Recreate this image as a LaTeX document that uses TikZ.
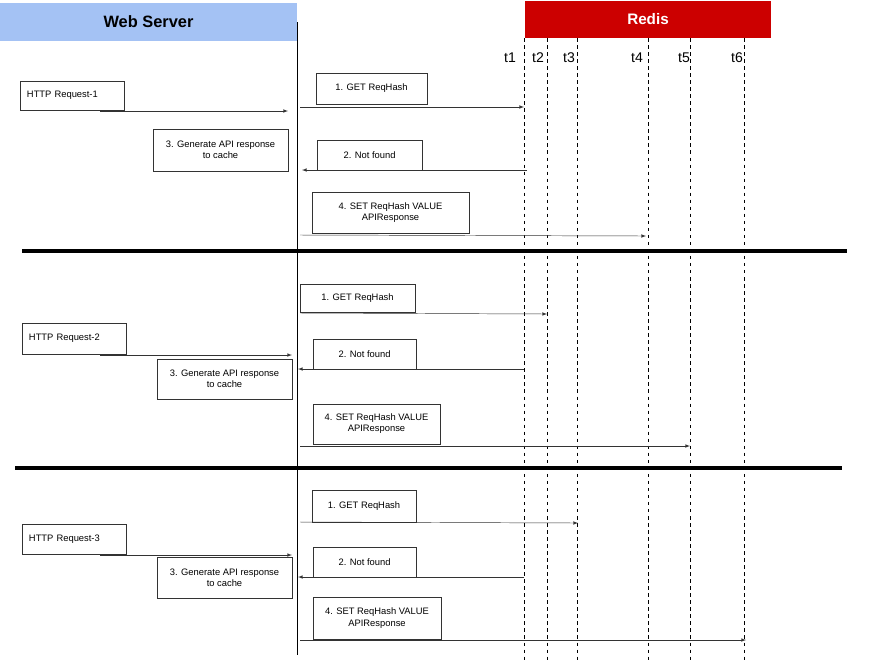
\documentclass[tikz,border=0pt]{standalone}
\usepackage{fontspec}
\setmainfont{Liberation Sans}
\usepackage{xcolor}
\definecolor{wsblue}{HTML}{A4C2F4}
\definecolor{redisred}{HTML}{CC0000}
\begin{document}
\begin{tikzpicture}[x=0.3mm,y=-0.3mm]
\tikzset{box/.style={draw=black!80,fill=white,inner sep=1pt,align=center,font=\fontsize{8}{9.5}\selectfont},
  req/.style={box,align=left,text width=27mm,minimum width=31.2mm},
  msg/.style={draw=black!80,-latex},
  tline/.style={draw=black,dashed,thin}}
\useasboundingbox (0,0) rectangle (880,660);
% headers
\node (ws) [fill=wsblue,minimum width=89.1mm,minimum height=11.4mm,inner sep=0pt,font=\fontsize{14}{16}\bfseries] at (148.5,22) {Web Server};
\node (redis) [fill=redisred,text=white,minimum width=73.8mm,minimum height=11.1mm,inner sep=0pt,font=\fontsize{13}{15}\bfseries] at (648,19.5) {Redis};
\draw (297,22) -- (297,655);
% time lines
\foreach \n/\x/\lx in {1/524/510,2/547/538,3/577/569,4/648/637,5/690/684,6/744/737}{
  \coordinate (t\n) at (\x,38);
  \draw [tline] (t\n) -- (\x,660);
  \node (lt\n) [font=\fontsize{12}{14}\selectfont] at (\lx,58) {t\n};
}
% separators
\draw [line width=1.2mm] (22,251) -- (847,251);
\draw [line width=1.2mm] (15,468) -- (842,468);
% request 1
\node (req1) [req,minimum height=8.7mm] at (72,95.5) {HTTP Request-1};
\node (get1) [box,minimum width=33.3mm,minimum height=9.3mm] at (371.5,88.5) {1. GET ReqHash};
\node (gen1) [box,minimum width=40.5mm,minimum height=12.6mm] at (220.5,150) {3. Generate API response\\to cache};
\node (nf1) [box,minimum width=31.5mm,minimum height=9mm] at (369.5,155) {2. Not found};
\node (set1) [box,minimum width=47.1mm,minimum height=12.3mm] at (390.5,212.5) {4. SET ReqHash VALUE\\APIResponse};
\coordinate (a1) at (100,111); \coordinate (b1) at (288,111);
\draw [msg] (a1) -- (b1);
\coordinate (c1) at (300,107); \coordinate (d1) at (524,107);
\draw [msg] (c1) -- (d1);
\coordinate (e1) at (527,170); \coordinate (f1) at (302,170);
\draw [msg] (e1) -- (f1);
\coordinate (g1) at (300,235); \coordinate (h1) at (646,236);
\draw [msg] (g1) -- (h1);
% request 2
\node (get2) [box,minimum width=34.5mm,minimum height=8.4mm] at (357.5,298) {1. GET ReqHash};
\node (req2) [req,minimum height=9.3mm] at (74,338.5) {HTTP Request-2};
\node (nf2) [box,minimum width=30.9mm,minimum height=9mm] at (364.5,354) {2. Not found};
\node (gen2) [box,minimum width=40.5mm,minimum height=12mm] at (224.5,379) {3. Generate API response\\to cache};
\node (set2) [box,minimum width=38.1mm,minimum height=12mm] at (376.5,424) {4. SET ReqHash VALUE\\APIResponse};
\coordinate (a2) at (100,355); \coordinate (b2) at (292,355);
\draw [msg] (a2) -- (b2);
\coordinate (c2) at (300,313); \coordinate (d2) at (547,314);
\draw [msg] (c2) -- (d2);
\coordinate (e2) at (524,369); \coordinate (f2) at (298,369);
\draw [msg] (e2) -- (f2);
\coordinate (g2) at (300,446); \coordinate (h2) at (690,446);
\draw [msg] (g2) -- (h2);
% request 3
\node (get3) [box,minimum width=31.2mm,minimum height=9.6mm] at (364,506) {1. GET ReqHash};
\node (req3) [req,minimum height=9mm] at (74,539) {HTTP Request-3};
\node (nf3) [box,minimum width=30.9mm,minimum height=9mm] at (364.5,562) {2. Not found};
\node (gen3) [box,minimum width=40.5mm,minimum height=12.3mm] at (224.5,577.5) {3. Generate API response\\to cache};
\node (set3) [box,minimum width=38.4mm,minimum height=12.6mm] at (377,618) {4. SET ReqHash VALUE\\APIResponse};
\coordinate (a3) at (100,555); \coordinate (b3) at (292,555);
\draw [msg] (a3) -- (b3);
\coordinate (c3) at (300,522); \coordinate (d3) at (578,523);
\draw [msg] (c3) -- (d3);
\coordinate (e3) at (524,577); \coordinate (f3) at (298,577);
\draw [msg] (e3) -- (f3);
\coordinate (g3) at (300,640); \coordinate (h3) at (746,640);
\draw [msg] (g3) -- (h3);
\end{tikzpicture}
\end{document}
